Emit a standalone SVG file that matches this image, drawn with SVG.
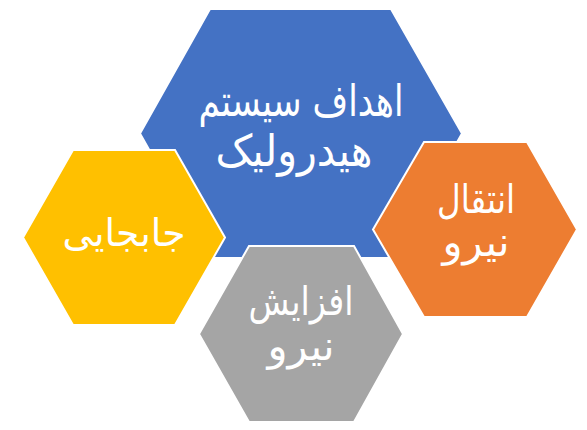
<svg xmlns="http://www.w3.org/2000/svg" width="587" height="430" viewBox="0 0 587 430">
<style>
.hex{stroke:#ffffff;stroke-width:2;stroke-linejoin:miter}
.t{font-family:"DejaVu Sans",sans-serif;fill:#ffffff;text-anchor:middle;direction:rtl}
</style>
<rect width="587" height="430" fill="#ffffff"/>
<g id="connectors"></g>
<g id="node-blue">
<polygon class="hex" fill="#4472C4" points="210,9 391,9 462,133.5 391,258 210,258 140,133.5"/>
<text class="t" x="301" y="116" font-size="44" textLength="205" lengthAdjust="spacingAndGlyphs">اهداف سیستم</text>
<text class="t" x="294" y="166" font-size="44" textLength="157" lengthAdjust="spacingAndGlyphs">هیدرولیک</text>
</g>
<g id="node-yellow">
<polygon class="hex" fill="#FFC000" points="73,150 175,150 225,237.5 175,325 73,325 23,237.5"/>
<text class="t" x="124" y="246" font-size="38" textLength="123" lengthAdjust="spacingAndGlyphs">جابجایی</text>
</g>
<g id="node-orange">
<polygon class="hex" fill="#ED7D31" points="424,142 527,142 577,229.5 527,317 424,317 373,229.5"/>
<text class="t" x="476" y="213" font-size="40" textLength="78" lengthAdjust="spacingAndGlyphs">انتقال</text>
<text class="t" x="476" y="256" font-size="40" textLength="67" lengthAdjust="spacingAndGlyphs">نیرو</text>
</g>
<g id="node-gray">
<polygon class="hex" fill="#A5A5A5" points="249,246 354,246 403,334 354,422 249,422 199,334"/>
<text class="t" x="301" y="315" font-size="40" textLength="105" lengthAdjust="spacingAndGlyphs">افزایش</text>
<text class="t" x="301" y="360" font-size="40" textLength="67" lengthAdjust="spacingAndGlyphs">نیرو</text>
</g>
</svg>
